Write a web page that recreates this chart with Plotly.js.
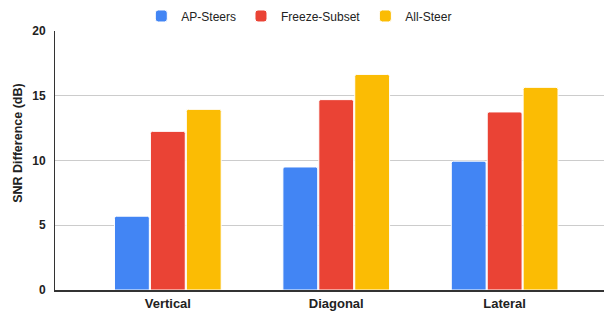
<!DOCTYPE html>
<html>
<head>
<meta charset="utf-8">
<script src="https://cdn.plot.ly/plotly-3.0.1.min.js"></script>
<style>html,body{margin:0;padding:0;background:#fff;}#chart{width:604px;height:316px;}</style>
</head>
<body>
<div id="chart"></div>
<script>
const categories = ["Vertical", "Diagonal", "Lateral"];
const seriesNames = ["AP-Steers", "Freeze-Subset", "All-Steer"];
const apSteers = [5.7, 9.5, 9.95];
const freezeSubset = [12.25, 14.7, 13.75];
const allSteer = [13.95, 16.65, 15.65];
const yTicks = [0, 5, 10, 15, 20];

const colors = ["#4285F4", "#EA4335", "#FBBC04"];
const values = [apSteers, freezeSubset, allSteer];
const FONT = "Arial";

const traces = values.map((v, i) => ({
  type: "bar",
  name: seriesNames[i],
  x: categories,
  y: v,
  marker: {color: colors[i], line: {color: "#ffffff", width: 1}, cornerradius: 2},
  hoverinfo: "none"
}));

const layout = {
  width: 604,
  height: 316,
  margin: {l: 55, r: 0, t: 31, b: 26},
  paper_bgcolor: "#ffffff",
  plot_bgcolor: "#ffffff",
  font: {family: FONT, color: "#222222", size: 12},
  barmode: "group",
  bargap: 0.36,
  bargroupgap: 0.03,
  showlegend: true,
  legend: {
    orientation: "h",
    x: 0.445, xanchor: "center",
    y: 1.058, yanchor: "middle",
    font: {family: FONT, size: 12, color: "#222222"},
    itemclick: false
  },
  xaxis: {
    type: "category",
    range: [-0.67, 2.59],
    showline: true,
    linecolor: "#333333",
    linewidth: 2,
    showgrid: false,
    ticks: "",
    tickfont: {family: FONT, size: 13, color: "#222222", weight: "bold"},
    fixedrange: true
  },
  yaxis: {
    range: [0, 20],
    tickvals: yTicks,
    ticktext: yTicks.map(String),
    showline: true,
    linecolor: "#333333",
    linewidth: 1,
    gridcolor: "#cccccc",
    gridwidth: 1,
    zeroline: false,
    ticks: "",
    ticklabelstandoff: 6,
    tickfont: {family: FONT, size: 12, color: "#222222", weight: "bold"},
    fixedrange: true
  },
  annotations: [{
    text: "SNR Difference (dB)",
    xref: "paper", yref: "paper",
    x: -0.068, y: 0.567,
    xanchor: "center", yanchor: "middle",
    textangle: -90,
    showarrow: false,
    font: {family: FONT, size: 12.5, color: "#222222", weight: "bold"}
  }]
};

Plotly.newPlot("chart", traces, layout, {displayModeBar: false, staticPlot: true});
</script>
</body>
</html>
